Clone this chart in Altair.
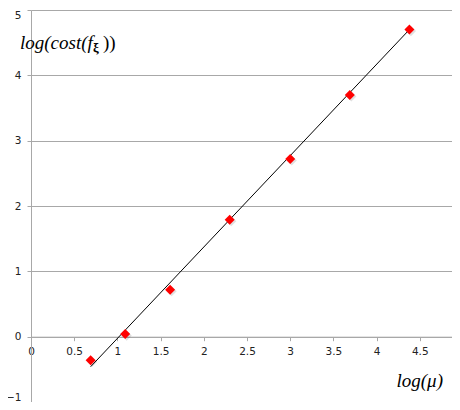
import altair as alt
import pandas as pd

# data
x_vals = [0.69, 1.09, 1.61, 2.30, 3.00, 3.69, 4.38]
y_vals = [-0.36, 0.04, 0.72, 1.79, 2.72, 3.70, 4.70]
fit_x = [0.69, 4.38]
fit_y = [-0.46, 4.70]
x_ticks = [0, 0.5, 1, 1.5, 2, 2.5, 3, 3.5, 4, 4.5]
y_ticks = [-1, 0, 1, 2, 3, 4, 5]
y_title_parts = ["log(cost(f", "ξ", "))"]
x_title = ["log(μ)"]

pts = pd.DataFrame({"x": x_vals, "y": y_vals})
fit = pd.DataFrame({"x": fit_x, "y": fit_y})

W, H = 421, 392
grey = "#a8a8a8"
# the reference's plot area runs past the window edge, so the visible part ends before x = 5
xscale = alt.Scale(domain=[0, 4.873], nice=False, zero=False)
yscale = alt.Scale(domain=[-1, 5], nice=False, zero=False)

xaxis = alt.Axis(values=x_ticks, offset=-65.3, grid=False, domainColor=grey,
                 tickColor=grey, tickSize=4, labelPadding=6, title=None,
                 format="~g", labelFont="DejaVu Sans", labelFontSize=10.5,
                 labelColor="#222222", labelFlush=False)
yaxis = alt.Axis(values=y_ticks, grid=True, gridColor=grey, domainColor=grey,
                 tickColor=grey, tickSize=4, labelPadding=6, title=None,
                 format="d", labelFont="DejaVu Sans", labelFontSize=10.5,
                 labelColor="#222222", labelFlush=True)

line = alt.Chart(fit).mark_line(color="black", strokeWidth=1).encode(
    x=alt.X("x:Q", scale=xscale, axis=xaxis),
    y=alt.Y("y:Q", scale=yscale, axis=yaxis),
)

shadow = alt.Chart(pts).mark_point(shape="diamond", filled=True, size=105,
                                   color="#000000", opacity=0.12).encode(
    x=alt.X("x:Q", scale=xscale),
    y=alt.Y("y:Q", scale=yscale),
    xOffset=alt.value(1.5), yOffset=alt.value(1.5),
)

points = alt.Chart(pts).mark_point(shape="diamond", filled=True, size=100,
                                   color="#ff0000", opacity=1).encode(
    x=alt.X("x:Q", scale=xscale),
    y=alt.Y("y:Q", scale=yscale),
)

def label(txt, px, py, size, weight="normal", style="italic", align="left"):
    return alt.Chart(pd.DataFrame({"t": [txt]})).mark_text(
        font="Liberation Serif", fontSize=size, fontStyle=style,
        fontWeight=weight, align=align, baseline="alphabetic", color="black",
    ).encode(text="t:N", x=alt.value(px), y=alt.value(py))

t1 = label(y_title_parts[0], -11, 39, 19)
t2 = label(y_title_parts[1], 62, 42, 13, weight="bold", style="normal")
t3 = label(y_title_parts[2], 72, 39, 19, style="normal")
t4 = label(x_title[0], 412, 377, 19, align="right")

chart = alt.layer(line, shadow, points, t1, t2, t3, t4).properties(
    width=W, height=H,
    autosize=alt.AutoSizeParams(type="none"),
    padding={"left": 23, "top": 2, "right": 0, "bottom": 0},
).configure_view(strokeWidth=0)

chart.save("out.html", embed_options={"renderer": "svg", "actions": False})
